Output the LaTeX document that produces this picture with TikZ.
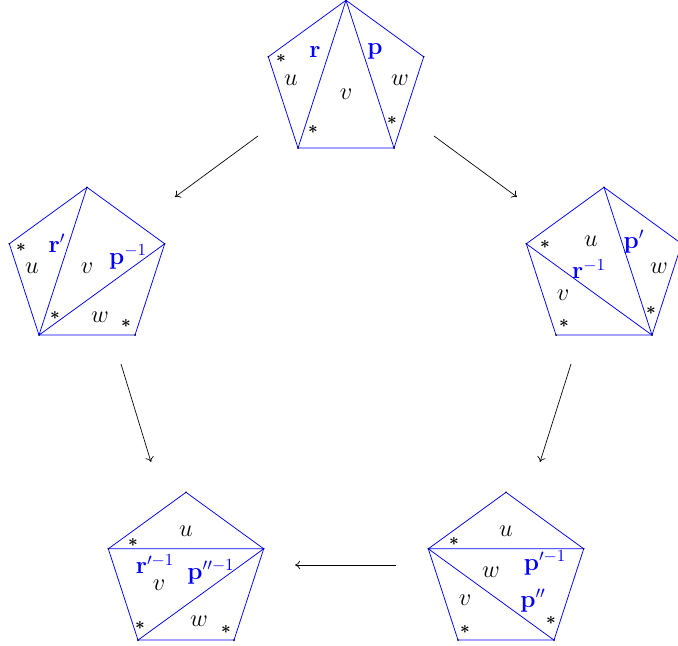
\documentclass[tikz,border=0pt]{standalone}
\usepackage{bm}
\usetikzlibrary{arrows.meta}
\newcommand\mkpent[3]{%
  \coordinate (#1a) at (#2,#3-81.7);
  \coordinate (#1b) at (#2-77.7,#3-25.2);
  \coordinate (#1c) at (#2-48,#3+66.1);
  \coordinate (#1d) at (#2+48,#3+66.1);
  \coordinate (#1e) at (#2+77.7,#3-25.2);
  \draw[pent] (#1a) -- (#1b) -- (#1c) -- (#1d) -- (#1e) -- cycle;
  \foreach \v in {a,b,c,d,e} {\fill (#1\v) circle (0.9);}
}
\tikzset{
  pent/.style={draw=blue, line width=0.45pt},
  diag/.style={draw=blue, line width=0.45pt},
  lab/.style={inner sep=0pt, font=\Large},
  edgelab/.style={inner sep=0pt, text=blue, font=\Large},
  star/.style={inner sep=0pt, font=\normalsize},
  move/.style={-{To[length=3pt,width=5pt]}, line width=0.4pt},
}
\newcommand\sk{$\bm{\ast}$}
\begin{document}
\begin{tikzpicture}[x=0.59pt,y=-0.59pt]
\useasboundingbox (0,0) rectangle (678,646);
% top
\mkpent{T}{346}{82}
\draw[diag] (Ta) -- (Tc) (Ta) -- (Td);
\node[star] (Ts1) at (281,59) {\sk};
\node[star] (Ts2) at (313,130) {\sk};
\node[star] (Ts3) at (392,121) {\sk};
\node[edgelab] (Tr) at (315,52) {$\mathbf{r}$};
\node[edgelab] (Tp) at (375,51) {$\mathbf{p}$};
\node[lab] (Tu) at (291,80) {$u$};
\node[lab] (Tv) at (346,94) {$v$};
\node[lab] (Tw) at (400,80) {$w$};
% left
\mkpent{L}{87}{269}
\draw[diag] (Lc) -- (La) (Lc) -- (Le);
\node[star] (Ls1) at (21,247) {\sk};
\node[star] (Ls2) at (55,315) {\sk};
\node[star] (Ls3) at (126,323) {\sk};
\node[edgelab] (Lr) at (57,243) {$\mathbf{r}'$};
\node[edgelab] (Lp) at (128,257) {$\mathbf{p}^{-1}$};
\node[lab] (Lu) at (32,268) {$u$};
\node[lab] (Lv) at (87,268) {$v$};
\node[lab] (Lw) at (100,317) {$w$};
% right
\mkpent{R}{604}{269}
\draw[diag] (Rb) -- (Rd) (Ra) -- (Rd);
\node[star] (Rs1) at (545,245) {\sk};
\node[star] (Rs2) at (564,323) {\sk};
\node[star] (Rs3) at (651,310) {\sk};
\node[edgelab] (Rp) at (634,242) {$\mathbf{p}'$};
\node[edgelab] (Rr) at (589,269) {$\mathbf{r}^{-1}$};
\node[lab] (Ru) at (591,241) {$u$};
\node[lab] (Rv) at (563,295) {$v$};
\node[lab] (Rw) at (659,268) {$w$};
% bottom left
\mkpent{A}{186}{574}
\draw[diag] (Ab) -- (Ae) (Ac) -- (Ae);
\node[star] (As1) at (133,542) {\sk};
\node[star] (As2) at (140,625) {\sk};
\node[star] (As3) at (226,629) {\sk};
\node[edgelab] (Ar) at (155,564) {$\mathbf{r}'^{-1}$};
\node[edgelab] (Ap) at (211,572) {$\mathbf{p}''^{-1}$};
\node[lab] (Au) at (186,531) {$u$};
\node[lab] (Av) at (159,585) {$v$};
\node[lab] (Aw) at (199,621) {$w$};
% bottom right
\mkpent{B}{506}{574}
\draw[diag] (Bb) -- (Be) (Bb) -- (Bd);
\node[star] (Bs1) at (454,541) {\sk};
\node[star] (Bs2) at (465,629) {\sk};
\node[star] (Bs3) at (551,620) {\sk};
\node[edgelab] (Bp1) at (545,563) {$\mathbf{p}'^{-1}$};
\node[edgelab] (Bp2) at (533,601) {$\mathbf{p}''$};
\node[lab] (Bu) at (506,531) {$u$};
\node[lab] (Bv) at (465,600) {$v$};
\node[lab] (Bw) at (491,572) {$w$};
% arrows
\coordinate (m1s) at (258,136); \coordinate (m1e) at (175,197);
\coordinate (m2s) at (434,136); \coordinate (m2e) at (517,197);
\coordinate (m3s) at (121,364); \coordinate (m3e) at (151,462);
\coordinate (m4s) at (571,364); \coordinate (m4e) at (540,462);
\coordinate (m5s) at (396,565); \coordinate (m5e) at (295,565);
\draw[move] (m1s) -- (m1e);
\draw[move] (m2s) -- (m2e);
\draw[move] (m3s) -- (m3e);
\draw[move] (m4s) -- (m4e);
\draw[move] (m5s) -- (m5e);
\end{tikzpicture}
\end{document}
